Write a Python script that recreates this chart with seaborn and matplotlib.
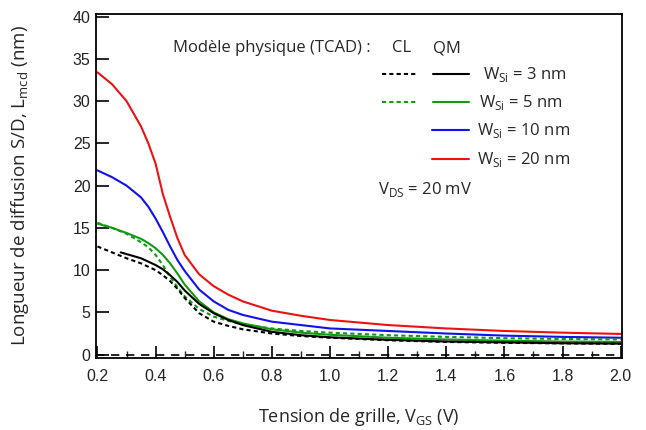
import numpy as np
import pandas as pd
import matplotlib
matplotlib.use("Agg")
import matplotlib.pyplot as plt
import seaborn as sns

# Data (V_GS in V, L_mcd in nm)
x_common = [0.2, 0.25, 0.3, 0.35, 0.375, 0.4, 0.425, 0.45, 0.475, 0.5, 0.55,
            0.6, 0.65, 0.7, 0.8, 0.9, 1.0, 1.2, 1.4, 1.6, 1.8, 2.0]
red_qm = [33.4, 32.0, 30.0, 27.0, 25.0, 22.6, 19.0, 16.3, 13.8, 11.8, 9.5,
          8.1, 7.1, 6.3, 5.2, 4.6, 4.1, 3.5, 3.1, 2.8, 2.6, 2.45]
blue_qm = [21.8, 21.0, 20.0, 18.6, 17.5, 16.1, 14.5, 12.8, 11.2, 9.9, 7.7,
           6.3, 5.3, 4.7, 3.9, 3.5, 3.1, 2.8, 2.5, 2.25, 2.1, 2.0]
green_qm = [15.5, 15.0, 14.4, 13.7, 13.2, 12.6, 11.8, 10.8, 9.6, 8.3, 6.3,
            5.0, 4.2, 3.7, 3.0, 2.6, 2.35, 2.0, 1.8, 1.65, 1.55, 1.5]
green_cl = [15.6, 15.0, 14.3, 13.3, 12.7, 11.8, 10.6, 9.2, 8.0, 6.9, 5.4,
            4.5, 4.0, 3.6, 3.1, 2.8, 2.6, 2.3, 2.1, 1.95, 1.85, 1.8]
black_cl = [12.8, 12.1, 11.4, 10.8, 10.4, 10.0, 9.4, 8.7, 7.8, 6.7, 4.9,
            3.9, 3.4, 3.0, 2.5, 2.2, 2.0, 1.7, 1.5, 1.4, 1.33, 1.28]
x_black_qm = [0.28, 0.3, 0.35, 0.375, 0.4, 0.425, 0.45, 0.475, 0.5, 0.55,
              0.6, 0.65, 0.7, 0.8, 0.9, 1.0, 1.2, 1.4, 1.6, 1.8, 2.0]
black_qm = [12.1, 11.9, 11.4, 11.0, 10.6, 10.1, 9.4, 8.6, 7.6, 6.0,
            4.9, 4.1, 3.5, 2.7, 2.3, 2.05, 1.75, 1.55, 1.45, 1.35, 1.3]

legend_labels = ["3 nm", "5 nm", "10 nm", "20 nm"]

sns.set_style("ticks")
plt.rcParams["font.family"] = ["Liberation Sans", "DejaVu Sans"]

fig = plt.figure(figsize=(6.46, 4.30), dpi=100)
ax = fig.add_axes([0.1486, 0.1674, 0.8144, 0.80])

RED, BLUE, GREEN, BLACK = "#ee1111", "#1111ee", "#119911", "black"
lw = 1.5
dash = (2.0, 1.5)

series = [
    (x_common, red_qm, RED, None),
    (x_common, blue_qm, BLUE, None),
    (x_common, green_cl, GREEN, dash),
    (x_common, green_qm, GREEN, None),
    (x_common, black_cl, BLACK, dash),
    (x_black_qm, black_qm, BLACK, None),
]
for xs, ys, col, ds in series:
    df = pd.DataFrame({"x": xs, "y": ys})
    sns.lineplot(data=df, x="x", y="y", color=col, lw=lw, ax=ax,
                 estimator=None, sort=False)
    if ds is not None:
        ax.lines[-1].set_dashes(ds)

ax.axhline(0, color="black", lw=1.2, dashes=(5, 4))

ax.set_xlim(0.195, 2.005)
ax.set_ylim(-0.4, 40.3)
ax.set_xticks(np.arange(0.2, 2.01, 0.2))
ax.set_xticklabels([f"{v:.1f}" for v in np.arange(0.2, 2.01, 0.2)])
ax.set_xticks(np.arange(0.3, 2.0, 0.2), minor=True)
ax.set_yticks(range(0, 41, 5))
ax.tick_params(axis="both", which="major", direction="in", length=9,
               width=1.2, labelsize=11.5, colors="black", labelcolor="#222222")
ax.tick_params(axis="x", which="minor", direction="in", length=5, width=1.0)
ax.tick_params(axis="x", pad=8)
ax.tick_params(axis="y", pad=4)
for s in ax.spines.values():
    s.set_linewidth(1.3)
    s.set_color("black")

tfont = ["Open Sans", "DejaVu Sans"]
ax.set_xlabel("Tension de grille, V$_{\\mathregular{GS}}$ (V)", fontsize=13,
              family=tfont, labelpad=16)
ax.set_ylabel("Longueur de diffusion S/D, L$_{\\mathregular{mcd}}$ (nm)",
              fontsize=13.5, family=tfont, labelpad=30)

# Legend-like annotations (axes coordinates)
T = ax.transAxes
def ax_xy(px, py):
    x0, x1, y0, y1 = 96, 622, 358, 14
    return (px - x0) / (x1 - x0), (py - y0) / (y1 - y0)

fs = 12
ax.text(*ax_xy(173, 48), "Modèle physique (TCAD) :", transform=T, fontsize=fs,
        family=tfont, va="center")
ax.text(*ax_xy(392, 48), "CL", transform=T, fontsize=fs, family=tfont, va="center")
ax.text(*ax_xy(433, 48), "QM", transform=T, fontsize=fs, family=tfont, va="center")

rows = [(74, BLACK, True, 483), (102, GREEN, True, 479),
        (130, BLUE, False, 477), (159, RED, False, 477)]
for (py, col, has_cl, tx), lab in zip(rows, legend_labels):
    if has_cl:
        (xa, ya), (xb, _) = ax_xy(382, py), ax_xy(418, py)
        ax.plot([xa, xb], [ya, ya], transform=T, color=col, lw=lw, dashes=dash)
    sx = 433 if has_cl else 432
    (xa, ya), (xb, _) = ax_xy(sx, py), ax_xy(469, py)
    ax.plot([xa, xb], [ya, ya], transform=T, color=col, lw=lw)
    ax.text(*ax_xy(tx, py), "W$_{\\mathregular{Si}}$ = " + lab, transform=T,
            fontsize=fs, family=tfont, va="center")

ax.text(*ax_xy(378, 189), "V$_{\\mathregular{DS}}$ = 20 mV", transform=T,
        fontsize=fs, family=tfont, va="center")

fig.savefig("out.png", dpi=100)
